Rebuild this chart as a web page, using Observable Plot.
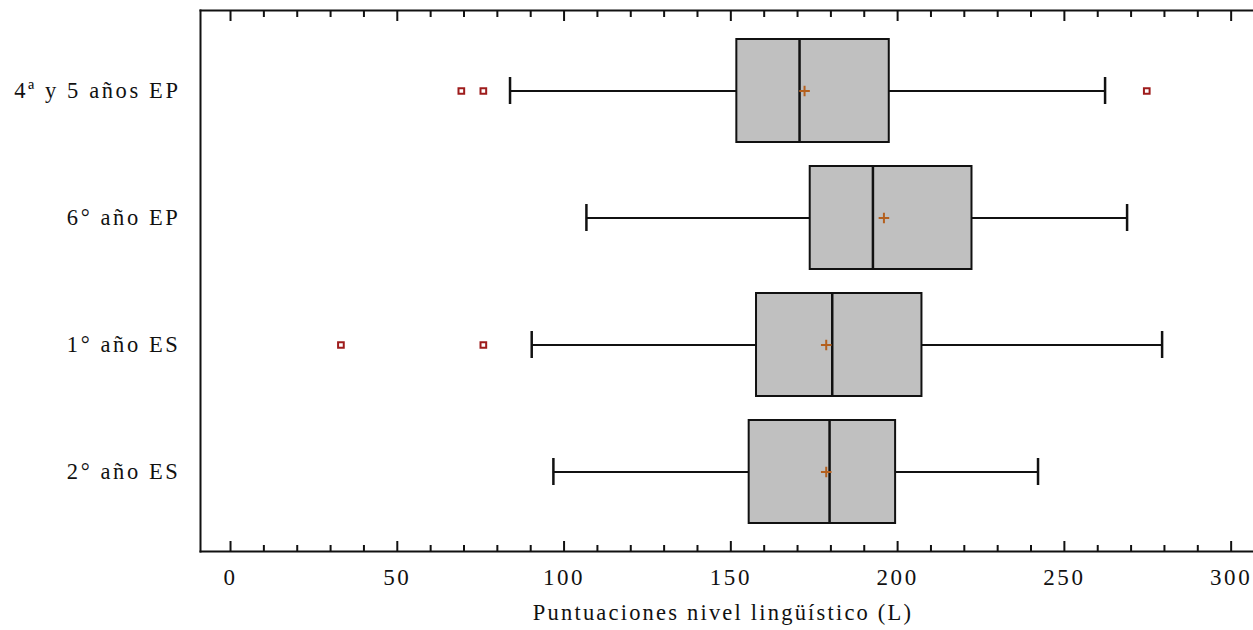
<!DOCTYPE html>
<html><head><meta charset="utf-8">
<script src="https://cdn.jsdelivr.net/npm/d3@7"></script>
<script src="https://cdn.jsdelivr.net/npm/@observablehq/plot@0.6"></script>
<style>
body{margin:0;background:#fff;}
</style></head><body><div id="chart"></div>
<script>
// ---- data ----
const groups = ["4ª y 5 años EP", "6° año EP", "1° año ES", "2° año ES"];
const whiskerLow  = [83.8, 106.7, 90.3, 96.8];
const q1          = [151.8, 173.8, 157.7, 155.5];
const median      = [170.6, 192.6, 180.4, 179.6];
const q3          = [197.5, 222.3, 207.3, 199.4];
const whiskerHigh = [262.2, 268.8, 279.3, 242.1];
const means       = [172.1, 195.9, 178.6, 178.6];
const outlierGroups = ["4ª y 5 años EP", "4ª y 5 años EP", "4ª y 5 años EP", "1° año ES", "1° año ES"];
const outlierValues = [69.2, 75.8, 274.7, 33.1, 75.8];
const majorTicks = [0, 50, 100, 150, 200, 250, 300];
const tickLabels = ["0", "50", "100", "150", "200", "250", "300"];
const minorTicks = [10,20,30,40,60,70,80,90,110,120,130,140,160,170,180,190,210,220,230,240,260,270,280,290];
const xTitle = "Puntuaciones nivel lingüístico (L)";

const rows = groups.map((g, i) => ({group: g, low: whiskerLow[i], q1: q1[i], median: median[i], q3: q3[i], high: whiskerHigh[i], mean: means[i]}));
const outliers = outlierGroups.map((g, i) => ({group: g, value: outlierValues[i]}));

const W = 1253, H = 630, mT = 10, mB = 79, mL = 200, mR = 0;
const frameH = H - mT - mB;
const ink = "#111";
const serif = "Liberation Serif";

const chart = Plot.plot({
  width: W, height: H,
  marginTop: mT, marginBottom: mB, marginLeft: mL, marginRight: mR,
  style: {fontSize: "22px", color: ink, background: "#fff"},
  x: {domain: [-9, 306.7]},
  y: {domain: groups, paddingInner: 0.19, paddingOuter: 0.22, align: 0.5},
  marks: [
    Plot.frame({anchor: "left", stroke: ink, strokeWidth: 2}),
    Plot.frame({anchor: "top", stroke: ink, strokeWidth: 2}),
    Plot.frame({anchor: "bottom", stroke: ink, strokeWidth: 2}),
    Plot.tickX(majorTicks, {x: d => d, insetTop: frameH - 10, stroke: ink, strokeWidth: 2}),
    Plot.tickX(minorTicks, {x: d => d, insetTop: frameH - 6, stroke: ink, strokeWidth: 2}),
    Plot.tickX(majorTicks, {x: d => d, insetBottom: frameH - 11, stroke: ink, strokeWidth: 2}),
    Plot.tickX(minorTicks, {x: d => d, insetBottom: frameH - 7, stroke: ink, strokeWidth: 2}),
    Plot.axisX({ticks: majorTicks, tickSize: 0, tickPadding: 17, tickFormat: d => tickLabels[majorTicks.indexOf(d)], label: null, fontSize: 23, fontFamily: serif}),
    Plot.axisY({tickSize: 0, tickPadding: 20, label: null, fontSize: 22.5, fontFamily: serif}),
    Plot.text([xTitle], {text: d => d, frameAnchor: "bottom", dy: 61, dx: -4, lineAnchor: "middle", fontSize: 22.5, fontFamily: serif, className: "xtitle"}),
    Plot.ruleY(rows, {y: "group", x1: "low", x2: "q1", stroke: ink, strokeWidth: 2}),
    Plot.ruleY(rows, {y: "group", x1: "q3", x2: "high", stroke: ink, strokeWidth: 2}),
    Plot.tickX(rows, {x: "low", y: "group", insetTop: 38, insetBottom: 38, stroke: ink, strokeWidth: 2.5}),
    Plot.tickX(rows, {x: "high", y: "group", insetTop: 38, insetBottom: 38, stroke: ink, strokeWidth: 2.5}),
    Plot.barX(rows, {x1: "q1", x2: "q3", y: "group", fill: "#c0c0c0", stroke: ink, strokeWidth: 2}),
    Plot.tickX(rows, {x: "median", y: "group", stroke: ink, strokeWidth: 2.5}),
    Plot.dot(rows, {x: "mean", y: "group", symbol: "plus", r: 3.5, stroke: "#b4601e", strokeWidth: 2}),
    Plot.dot(outliers, {x: "value", y: "group", symbol: "square", r: 3.2, fill: "none", stroke: "#9e1c1c", strokeWidth: 2})
  ]
});
chart.setAttribute("font-family", serif);
chart.querySelectorAll("text").forEach(el => {
  el.setAttribute("font-family", serif);
  el.setAttribute("letter-spacing", "2.6");
});
chart.querySelectorAll(".xtitle text").forEach(el => el.setAttribute("letter-spacing", "2.2"));
document.getElementById("chart").appendChild(chart);
</script>
</body></html>
